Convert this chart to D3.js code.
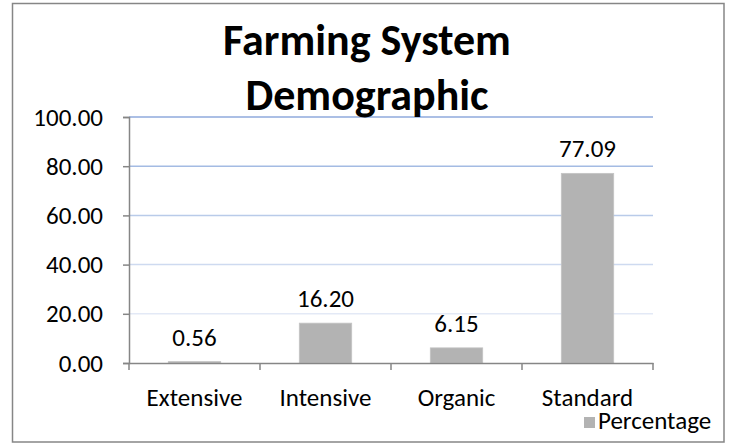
<!DOCTYPE html>
<html lang="en">
<head>
    <meta charset="UTF-8">
    <style>
        body { margin: 0; background: #fff; }
        text { font-family: Carlito, Lato, "Open Sans", sans-serif; fill: #000; }
    </style>
</head>
<body>
    <script src="https://d3js.org/d3.v7.min.js"></script>
    <div id="here"></div>

    <script>
        // data
        const categories = ["Extensive", "Intensive", "Organic", "Standard"];
        const percentage = [0.56, 16.20, 6.15, 77.09];
        const yTicks = [0, 20, 40, 60, 80, 100];
        const titleLines = ["Farming System", "Demographic"];
        const seriesName = "Percentage";

        const W = 730, H = 444;
        const margin = {top: 117, right: 77, bottom: 81, left: 129};
        const width = W - margin.left - margin.right,
              height = H - margin.top - margin.bottom;
        const fontSize = "25px";

        const svg = d3.select("#here")
            .append("svg")
                .attr("width", W)
                .attr("height", H);

        // outer chart border
        svg.append("rect")
            .attr("x", 12.5).attr("y", 3.5)
            .attr("width", 711.5).attr("height", 438.5)
            .attr("fill", "none")
            .attr("stroke", "#868686")
            .attr("stroke-width", 1.5);

        const g = svg.append("g")
            .attr("transform", `translate(${margin.left},${margin.top})`);

        const x = d3.scaleBand()
            .domain(categories)
            .range([0, width])
            .paddingInner(0.6)
            .paddingOuter(0.3);

        const xCat = d3.scaleBand()
            .domain(categories)
            .range([0, width]);

        const y = d3.scaleLinear()
            .domain([0, 100])
            .range([height, 0]);

        // gridlines, fading from blue at the top to pale near the bottom
        const gridColor = d3.scaleLinear()
            .domain([20, 60, 100])
            .range(["#e3e9f6", "#b9cbe9", "#8faadc"]);

        g.selectAll(".grid")
            .data(yTicks.filter(d => d > 0))
            .join("line")
                .attr("x1", 0).attr("x2", width)
                .attr("y1", d => y(d)).attr("y2", d => y(d))
                .attr("stroke", d => gridColor(d))
                .attr("stroke-width", 1.5);

        // bars
        g.selectAll(".bar")
            .data(percentage)
            .join("rect")
                .attr("x", (d, i) => x(categories[i]))
                .attr("y", d => y(d))
                .attr("width", x.bandwidth())
                .attr("height", d => height - y(d))
                .attr("fill", "#b3b3b3")
                .attr("stroke", "#c4c4c4")
                .attr("stroke-width", 0.8);

        // value labels
        g.selectAll(".val")
            .data(percentage)
            .join("text")
                .attr("x", (d, i) => x(categories[i]) + x.bandwidth() / 2)
                .attr("y", d => y(d) - 16)
                .attr("text-anchor", "middle")
                .style("font-size", fontSize)
                .text(d => d.toFixed(2));

        // y axis
        const yAxis = g.append("g")
            .call(d3.axisLeft(y).tickValues(yTicks).tickFormat(d3.format(".2f")).tickSizeOuter(0).tickSize(6).tickPadding(20));
        yAxis.select(".domain").attr("stroke", "#868686").attr("stroke-width", 1.5);
        yAxis.selectAll(".tick line").attr("stroke", "#868686").attr("stroke-width", 1.5);
        yAxis.selectAll(".tick text").style("font-size", fontSize).attr("fill", "#000");

        // x axis, ticks on category boundaries
        const xAxis = g.append("g")
            .attr("transform", `translate(0,${height})`)
            .call(d3.axisBottom(xCat).tickSize(0).tickSizeOuter(0).tickPadding(25));
        xAxis.select(".domain").attr("stroke", "#868686").attr("stroke-width", 1.5);
        xAxis.selectAll(".tick text").style("font-size", fontSize).attr("fill", "#000");
        xAxis.selectAll(".bound")
            .data(d3.range(categories.length + 1))
            .join("line")
                .attr("x1", i => i * xCat.step()).attr("x2", i => i * xCat.step())
                .attr("y1", 0).attr("y2", 7)
                .attr("stroke", "#868686")
                .attr("stroke-width", 1.5);

        // title
        svg.append("text")
            .attr("x", 367)
            .attr("y", 55)
            .attr("text-anchor", "middle")
            .style("font-size", "44px")
            .style("font-weight", "bold")
            .selectAll("tspan")
            .data(titleLines)
            .join("tspan")
                .attr("x", 367)
                .attr("dy", (d, i) => i === 0 ? 0 : 55)
                .text(d => d);

        // legend
        const legend = svg.append("g").attr("transform", "translate(584,417)");
        legend.append("rect")
            .attr("width", 11).attr("height", 11)
            .attr("fill", "#b3b3b3");
        legend.append("text")
            .attr("x", 14).attr("y", 12)
            .style("font-size", fontSize)
            .text(seriesName);
    </script>
</body>
</html>
